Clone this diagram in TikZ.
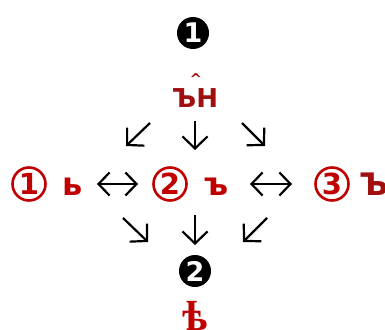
\documentclass[tikz,border=0pt]{standalone}
\usepackage{fontspec}
\setmainfont{DejaVu Sans}
\newfontfamily\yatfont{Liberation Serif}
\usetikzlibrary{arrows.meta}
\definecolor{cred}{RGB}{192,0,0}
\definecolor{dred}{RGB}{160,16,16}
\begin{document}
\begin{tikzpicture}[x=1pt,y=-1pt,
  blackno/.style={circle,fill=black,minimum size=32pt,inner sep=0pt,text=white,font=\fontsize{27}{27}\selectfont\bfseries},
  redno/.style={circle,draw=cred,line width=2.6pt,minimum size=33pt,inner sep=0pt,text=cred,font=\fontsize{29}{29}\selectfont\bfseries},
  letter/.style={inner sep=0pt,anchor=base,text=cred,font=\fontsize{32}{32}\selectfont\bfseries},
  arr/.style={line width=2.2pt,-{Straight Barb[length=12pt,width=25pt,line width=2.2pt]}},
  darr/.style={line width=2.2pt,{Straight Barb[length=11pt,width=23pt,line width=2.2pt]}-{Straight Barb[length=11pt,width=23pt,line width=2.2pt]}}]
\useasboundingbox (0,0) rectangle (385,329);
\node[blackno] (n1) at (193,33) {1};
\node[letter,text=dred,font=\fontsize{26}{26}\selectfont\bfseries] (top) at (195,107) {ЪН};
\node[inner sep=0pt,text=dred,font=\fontsize{15}{15}\selectfont\bfseries] (caret) at (196,79) {\^{}};
% row 1 arrows
\coordinate (a1s) at (150,123); \coordinate (a1e) at (126,146);
\coordinate (a2s) at (195,121); \coordinate (a2e) at (195,150);
\coordinate (a3s) at (242,123); \coordinate (a3e) at (265,146);
\draw[arr] (a1s) -- (a1e);
\draw[arr] (a2s) -- (a2e);
\draw[arr] (a3s) -- (a3e);
% middle row
\node[redno] (c1) at (29,184) {1};
\node[letter] (l1) at (73,195) {ь};
\coordinate (h1s) at (97,184); \coordinate (h1e) at (138,184);
\draw[darr] (h1s) -- (h1e);
\node[redno] (c2) at (170,184) {2};
\node[letter] (l2) at (217,195) {ъ};
\coordinate (h2s) at (250,184); \coordinate (h2e) at (292,184);
\draw[darr] (h2s) -- (h2e);
\node[redno] (c3) at (332,184) {3};
\node[letter,anchor=base west,text=dred,font=\fontsize{31}{31}\selectfont\bfseries] (l3) at (359,195) {Ъ};
% row 2 arrows
\coordinate (b1s) at (123,218); \coordinate (b1e) at (148,242);
\coordinate (b2s) at (195,215); \coordinate (b2e) at (195,245);
\coordinate (b3s) at (267,218); \coordinate (b3e) at (243,242);
\draw[arr] (b1s) -- (b1e);
\draw[arr] (b2s) -- (b2e);
\draw[arr] (b3s) -- (b3e);
\node[blackno] (n2) at (195,271) {2};
\node[letter,font=\yatfont\fontsize{42}{42}\selectfont\bfseries] (yat) at (195,330) {ѣ};
\end{tikzpicture}
\end{document}
